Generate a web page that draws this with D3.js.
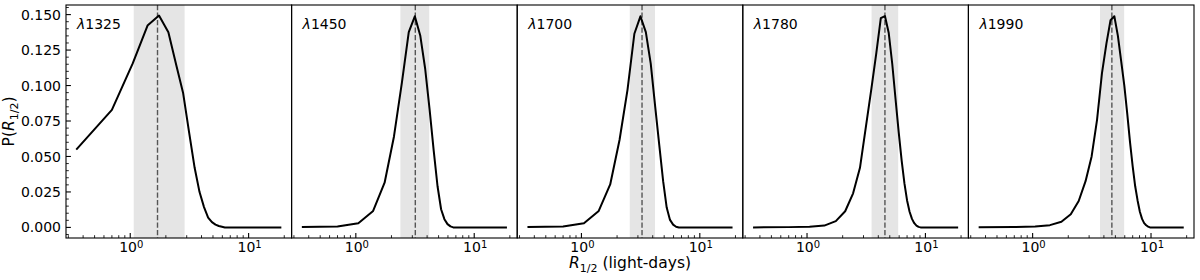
<!DOCTYPE html>
<html>
<head>
<meta charset="utf-8">
<script src="https://cdn.jsdelivr.net/npm/d3@7"></script>
<style>
  body { margin: 0; background: #fff; }
  svg { display: block; font-family: "DejaVu Sans", sans-serif; }
</style>
</head>
<body>
<div id="chart"></div>
<script>
// radius grid in light-days (shared by all panels)
const radius = [0.35, 0.70, 1.05, 1.40, 1.75, 2.10, 2.45, 2.80, 3.15, 3.50,
                3.85, 4.20, 4.55, 4.90, 5.25, 5.60, 5.95, 6.30, 6.65, 7.00,
                7.35, 7.70, 8.05, 8.40, 8.75, 9.10, 9.45, 9.80, 18.90];

const waves = ["1325", "1450", "1700", "1780", "1990"];

// P(R_1/2)
const prob1325 = [0.0548, 0.0828, 0.1156, 0.1423, 0.1493, 0.1376, 0.1143, 0.0945, 0.0665, 0.0420,
                  0.0249, 0.0143, 0.0069, 0.0037, 0.0020, 0.0010, 0.0005, 0, 0, 0,
                  0, 0, 0, 0, 0, 0, 0, 0, 0];
const prob1450 = [0.0003, 0.0006, 0.0030, 0.0116, 0.0315, 0.0641, 0.1020, 0.1376, 0.1488, 0.1353,
                  0.1120, 0.0830, 0.0540, 0.0290, 0.0128, 0.0058, 0.0023, 0.0007, 0, 0,
                  0, 0, 0, 0, 0, 0, 0, 0, 0];
const prob1700 = [0.0003, 0.0007, 0.0030, 0.0116, 0.0303, 0.0618, 0.0970, 0.1365, 0.1488, 0.1376,
                  0.1155, 0.0850, 0.0576, 0.0326, 0.0140, 0.0053, 0.0020, 0.0005, 0, 0,
                  0, 0, 0, 0, 0, 0, 0, 0, 0];
const prob1780 = [0, 0.0002, 0.0005, 0.0013, 0.0044, 0.0114, 0.0240, 0.0420, 0.0716, 0.0980,
                  0.1230, 0.1475, 0.1490, 0.1370, 0.1150, 0.0900, 0.0670, 0.0470, 0.0310, 0.0190,
                  0.0110, 0.0060, 0.0030, 0.0013, 0.0004, 0, 0, 0, 0];
const prob1990 = [0.0001, 0.0003, 0.0007, 0.0016, 0.0040, 0.0093, 0.0186, 0.0326, 0.0500, 0.0758,
                  0.1085, 0.1295, 0.1460, 0.1488, 0.1350, 0.1170, 0.1000, 0.0800, 0.0600, 0.0430,
                  0.0290, 0.0190, 0.0110, 0.0060, 0.0030, 0.0015, 0.0006, 0, 0];

// shaded interval and median per panel
const bandLow  = [1.07, 2.38, 2.56, 3.51, 3.71];
const bandHigh = [2.88, 4.17, 4.18, 5.89, 5.93];
const medians  = [1.70, 3.18, 3.25, 4.55, 4.67];

const yTicks = [0, 0.025, 0.05, 0.075, 0.1, 0.125, 0.15];
const xMajor = [1, 10];
const xMajorExp = ["0", "1"];

const series = [prob1325, prob1450, prob1700, prob1780, prob1990];

// layout
const width = 1200, height = 280;
const marginLeft = 66, marginRight = 6, marginTop = 5, marginBottom = 42;
const panelW = (width - marginLeft - marginRight) / waves.length;
const plotBottom = height - marginBottom;
const fs = 14;     // tick labels
const fsLab = 15.5; // axis labels

// matplotlib style 5% margins
const lmin = Math.log10(d3.min(radius)), lmax = Math.log10(d3.max(radius));
const lpad = 0.05 * (lmax - lmin);
const x = d3.scaleLog()
  .domain([10 ** (lmin - lpad), 10 ** (lmax + lpad)])
  .range([0, panelW]);

const ymax = d3.max(series.flat());
const y = d3.scaleLinear()
  .domain([-0.05 * ymax, ymax * 1.05])
  .range([plotBottom, marginTop]);

const xMinor = x.ticks().filter(t => !xMajor.includes(t));
const yMinor = d3.range(-0.005, 0.1551, 0.005)
  .filter(t => !yTicks.some(m => Math.abs(m - t) < 1e-9));

const svg = d3.select("#chart").append("svg")
  .attr("width", width)
  .attr("height", height);

const line = d3.line()
  .x((d, i) => x(radius[i]))
  .y(d => y(d));

waves.forEach((w, i) => {
  const g = svg.append("g")
    .attr("transform", `translate(${marginLeft + i * panelW},0)`);

  // shaded interval
  g.append("rect")
    .attr("x", x(bandLow[i]))
    .attr("y", marginTop)
    .attr("width", x(bandHigh[i]) - x(bandLow[i]))
    .attr("height", plotBottom - marginTop)
    .attr("fill", "#e5e5e5");

  // median
  g.append("line")
    .attr("x1", x(medians[i])).attr("x2", x(medians[i]))
    .attr("y1", marginTop).attr("y2", plotBottom)
    .attr("stroke", "#555")
    .attr("stroke-width", 1.4)
    .attr("stroke-dasharray", "5.2,2.3");

  // curve
  g.append("path")
    .datum(series[i])
    .attr("d", line)
    .attr("fill", "none")
    .attr("stroke", "#000")
    .attr("stroke-width", 2)
    .attr("stroke-linejoin", "round");

  // bottom ticks, pointing in
  g.selectAll("line.xmaj")
    .data(xMajor)
    .join("line")
      .attr("class", "xmaj")
      .attr("x1", d => x(d)).attr("x2", d => x(d))
      .attr("y1", plotBottom).attr("y2", plotBottom - 4.9)
      .attr("stroke", "#000").attr("stroke-width", 1.1);

  g.selectAll("line.xmin")
    .data(xMinor)
    .join("line")
      .attr("class", "xmin")
      .attr("x1", d => x(d)).attr("x2", d => x(d))
      .attr("y1", plotBottom).attr("y2", plotBottom - 2.8)
      .attr("stroke", "#000").attr("stroke-width", 0.85);

  const lab = g.selectAll("text.xlab")
    .data(xMajor)
    .join("text")
      .attr("class", "xlab")
      .attr("x", d => x(d) + 1)
      .attr("y", 252)
      .attr("text-anchor", "middle")
      .style("font-size", `${fs}px`);
  lab.append("tspan").text("10");
  lab.append("tspan")
    .attr("dy", -4.5)
    .style("font-size", "10px")
    .text((d, j) => xMajorExp[j]);

  // panel label
  const t = g.append("text")
    .attr("x", 11)
    .attr("y", 29)
    .style("font-size", `${fs}px`);
  t.append("tspan").style("font-style", "italic").text("λ");
  t.append("tspan").text(w);

  // frame
  g.append("rect")
    .attr("x", 0).attr("y", marginTop)
    .attr("width", panelW).attr("height", plotBottom - marginTop)
    .attr("fill", "none")
    .attr("stroke", "#000")
    .attr("stroke-width", 1.1);

  if (i === 0) {
    g.selectAll("line.ymaj")
      .data(yTicks)
      .join("line")
        .attr("class", "ymaj")
        .attr("x1", 0).attr("x2", 4.9)
        .attr("y1", d => y(d)).attr("y2", d => y(d))
        .attr("stroke", "#000").attr("stroke-width", 1.1);

    g.selectAll("line.ymin")
      .data(yMinor)
      .join("line")
        .attr("class", "ymin")
        .attr("x1", 0).attr("x2", 2.8)
        .attr("y1", d => y(d)).attr("y2", d => y(d))
        .attr("stroke", "#000").attr("stroke-width", 0.85);

    g.selectAll("text.ylab")
      .data(yTicks)
      .join("text")
        .attr("class", "ylab")
        .attr("x", -5)
        .attr("y", d => y(d))
        .attr("dy", "0.36em")
        .attr("text-anchor", "end")
        .style("font-size", `${fs}px`)
        .text(d => d3.format(".3f")(d));
  }
});

// x axis label
const xl = svg.append("text")
  .attr("x", marginLeft + panelW * waves.length / 2)
  .attr("y", 268)
  .attr("text-anchor", "middle")
  .style("font-size", `${fsLab}px`);
xl.append("tspan").style("font-style", "italic").text("R");
xl.append("tspan").attr("dy", 3.5).style("font-size", "11px").text("1/2");
xl.append("tspan").attr("dy", -3.5).text(" (light-days)");

// y axis label
const yl = svg.append("text")
  .attr("transform", `translate(14,${(marginTop + plotBottom) / 2}) rotate(-90)`)
  .attr("text-anchor", "middle")
  .style("font-size", `${fsLab}px`);
yl.append("tspan").text("P(");
yl.append("tspan").style("font-style", "italic").text("R");
yl.append("tspan").attr("dy", 3.5).style("font-size", "11px").text("1/2");
yl.append("tspan").attr("dy", -3.5).text(")");
</script>
</body>
</html>
